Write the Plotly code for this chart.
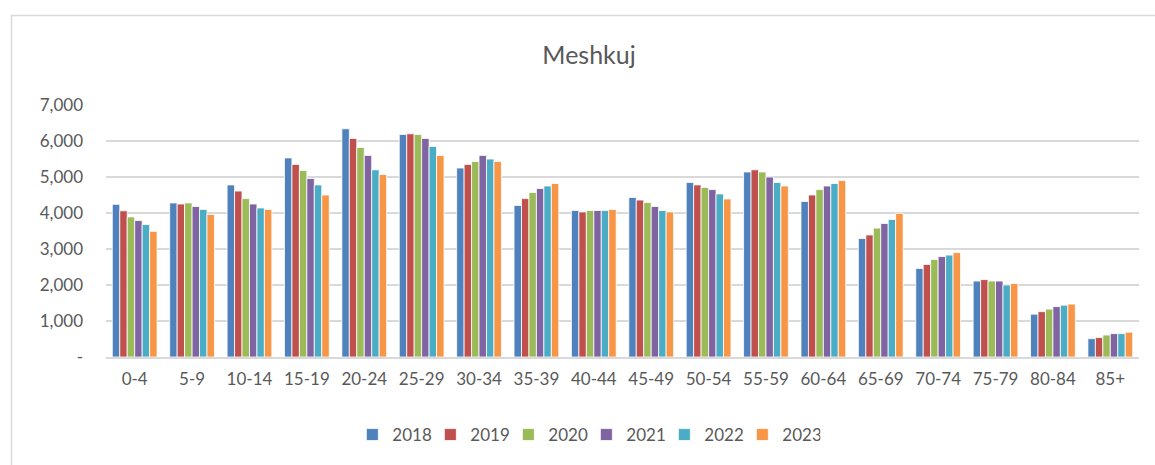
import plotly.graph_objects as go

categories = ["0-4", "5-9", "10-14", "15-19", "20-24", "25-29", "30-34", "35-39", "40-44",
              "45-49", "50-54", "55-59", "60-64", "65-69", "70-74", "75-79", "80-84", "85+"]
years = ["2018", "2019", "2020", "2021", "2022", "2023"]

v2018 = [4240, 4280, 4780, 5530, 6340, 6180, 5250, 4210, 4070, 4430, 4850, 5140, 4320, 3290, 2460, 2110, 1190, 510]
v2019 = [4060, 4250, 4610, 5350, 6070, 6200, 5350, 4400, 4030, 4360, 4780, 5200, 4500, 3390, 2570, 2150, 1260, 540]
v2020 = [3890, 4280, 4400, 5180, 5820, 6180, 5430, 4570, 4070, 4290, 4710, 5140, 4650, 3580, 2710, 2110, 1330, 610]
v2021 = [3790, 4180, 4250, 4960, 5600, 6070, 5600, 4680, 4070, 4180, 4650, 5000, 4750, 3710, 2790, 2110, 1400, 650]
v2022 = [3680, 4100, 4140, 4780, 5200, 5850, 5500, 4750, 4070, 4070, 4530, 4850, 4820, 3820, 2830, 2000, 1440, 650]
v2023 = [3490, 3960, 4100, 4500, 5070, 5600, 5430, 4820, 4100, 4030, 4390, 4750, 4900, 3990, 2900, 2040, 1470, 690]

series = [v2018, v2019, v2020, v2021, v2022, v2023]
colors = ["#4F81BD", "#C0504D", "#9BBB59", "#8064A2", "#4BACC6", "#F79646"]

tick_vals = [0, 1000, 2000, 3000, 4000, 5000, 6000, 7000]
tick_text = ["-", "1,000", "2,000", "3,000", "4,000", "5,000", "6,000", "7,000"]

W, H = 1155, 465
ml, mr, mt, mb = 106, 16, 105, 108

fig = go.Figure()
for yr, vals, col in zip(years, series, colors):
    fig.add_trace(go.Bar(name=yr, x=categories, y=vals,
                         marker=dict(color=col, line=dict(color="white", width=0.8))))

pw = W - ml - mr
ph = H - mt - mb

def px_x(p):
    return (p - ml) / pw

def px_y(p):
    return (H - mb - p) / ph

fig.add_shape(type="rect", xref="paper", yref="paper",
              x0=px_x(11.5), x1=px_x(1175), y0=px_y(15.5), y1=px_y(490),
              line=dict(color="#D9D9D9", width=1.5), fillcolor="rgba(0,0,0,0)", layer="below")

font_family = "Lato, 'Open Sans', sans-serif"
fig.update_layout(
    width=W, height=H,
    margin=dict(l=ml, r=mr, t=mt, b=mb),
    paper_bgcolor="white", plot_bgcolor="white",
    barmode="group", bargap=0.22, bargroupgap=0.0,
    font=dict(family=font_family, color="#595959", size=17),
    title=dict(text="Meshkuj", x=0.51, xanchor="center", y=1 - 55 / H, yanchor="middle", yref="container",
               font=dict(size=25, color="#595959", family=font_family)),
    showlegend=True,
    legend=dict(orientation="h", x=0.465, xanchor="center", y=px_y(435), yanchor="middle",
                font=dict(size=17, color="#595959"), itemwidth=30, traceorder="normal",
                entrywidth=33, entrywidthmode="pixels"),
    xaxis=dict(showgrid=False, showline=True, linecolor="#D9D9D9", linewidth=2, ticks="",
               ticklabelstandoff=6, tickfont=dict(size=17, color="#595959")),
    yaxis=dict(range=[0, 7000], tickvals=tick_vals, ticktext=tick_text, showgrid=True,
               gridcolor="#D9D9D9", gridwidth=1.8, zeroline=False, showline=False, ticks="",
               ticklabelstandoff=22, tickfont=dict(size=17, color="#595959")),
)

fig.write_html("out.html", config={"displayModeBar": False},
               post_script="document.body.style.margin='0';document.body.style.overflow='hidden';")
